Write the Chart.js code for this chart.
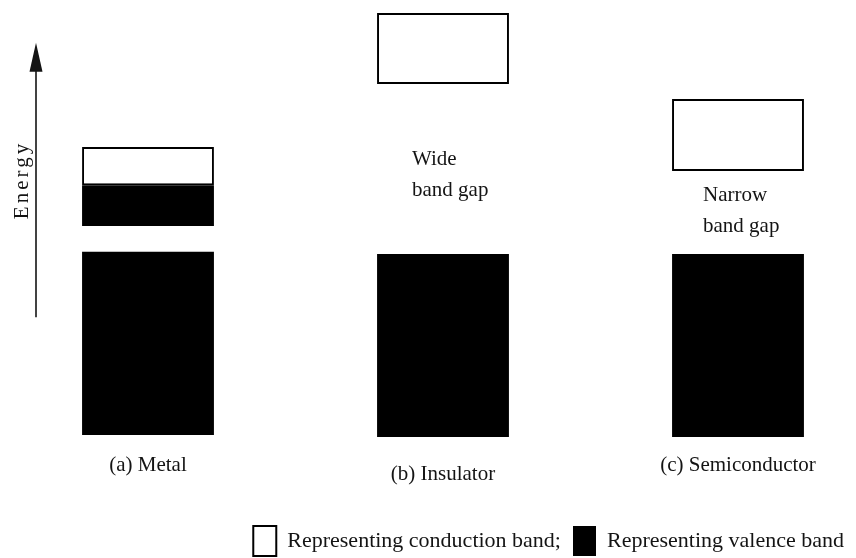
<!DOCTYPE html>
<html>
<head>
<meta charset="utf-8">
<script src="https://cdn.jsdelivr.net/npm/chart.js@4.4.1/dist/chart.umd.min.js"></script>
<style>
html, body { margin: 0; padding: 0; background: #fff; }
canvas { display: block; }
</style>
</head>
<body>
<canvas id="c" width="856" height="558"></canvas>
<script>
// ---- data (energy in arbitrary units) ----
const categories = ['(a) Metal', '(b) Insulator', '(c) Semiconductor'];
const conductionBand = [[6.05, 6.97], [8.48, 10.19], [6.39, 8.12]];
const valenceBand = [[0.05, 4.45], [0, 4.40], [0, 4.40]];
const partialValenceBand = [[5.07, 6.05], null, null];
const gapLabels = [null, ['Wide', 'band gap'], ['Narrow', 'band gap']];
const energyArrowRange = [2.88, 9.47];
const axisTitle = 'Energy';
const legendLabels = ['Representing conduction band;', 'Representing valence band'];

const FONT = "'Liberation Serif', 'Times New Roman', serif";
const INK = '#141414';

const bandAnnotations = {
  id: 'bandAnnotations',
  afterDatasetsDraw(chart, args, opts) {
    const { ctx, scales: { x, y } } = chart;
    ctx.save();
    // Energy arrow
    const ax = opts.arrowX;
    const y0 = y.getPixelForValue(energyArrowRange[0]);
    const y1 = y.getPixelForValue(energyArrowRange[1]);
    ctx.strokeStyle = INK;
    ctx.fillStyle = INK;
    ctx.lineWidth = 1.6;
    ctx.beginPath();
    ctx.moveTo(ax, y0);
    ctx.lineTo(ax, y1 + opts.headLen - 2);
    ctx.stroke();
    ctx.beginPath();
    ctx.moveTo(ax, y1);
    ctx.lineTo(ax - opts.headHalf, y1 + opts.headLen);
    ctx.lineTo(ax + opts.headHalf, y1 + opts.headLen);
    ctx.closePath();
    ctx.fill();
    // axis title
    ctx.save();
    ctx.translate(opts.titleX, (y0 + y1) / 2);
    ctx.rotate(-Math.PI / 2);
    ctx.font = '21px ' + FONT;
    ctx.textAlign = 'center';
    ctx.textBaseline = 'middle';
    try { ctx.letterSpacing = '3px'; } catch (e) {}
    ctx.fillText(axisTitle, 0, 0);
    ctx.restore();
    // band-gap labels
    ctx.font = '21px ' + FONT;
    ctx.textAlign = 'left';
    ctx.textBaseline = 'alphabetic';
    gapLabels.forEach((lines, i) => {
      if (!lines) return;
      const px = x.getPixelForValue(i) + opts.gapDx[i];
      const py = y.getPixelForValue(opts.gapY[i]);
      lines.forEach((t, k) => ctx.fillText(t, px, py + k * opts.gapLine));
    });
    ctx.restore();
  }
};

new Chart(document.getElementById('c'), {
  type: 'bar',
  data: {
    labels: categories,
    datasets: [
      { label: legendLabels[0], data: conductionBand, backgroundColor: '#ffffff', borderColor: '#000000', borderWidth: 2, borderSkipped: false, clip: false },
      { label: legendLabels[1], data: valenceBand, backgroundColor: '#000000', borderColor: '#000000', borderWidth: 0, clip: false },
      { label: 'Partially filled band (metal)', data: partialValenceBand, backgroundColor: '#000000', borderColor: '#000000', borderWidth: 0, clip: false }
    ]
  },
  options: {
    responsive: false,
    animation: false,
    events: [],
    layout: { padding: 0 },
    datasets: { bar: { grouped: false, categoryPercentage: 1, barPercentage: 0.447 } },
    scales: {
      x: {
        offset: false,
        grid: { display: false, drawTicks: false },
        border: { display: false },
        ticks: {
          color: INK,
          padding: 16,
          maxRotation: 0,
          autoSkip: false,
          font: (c) => ({ family: FONT, size: 21, lineHeight: c.index === 1 ? 2.06 : 1.2 })
        },
        afterFit: (s) => { s.height = 77; }
      },
      y: {
        min: 0,
        max: 10.5,
        grid: { display: false, drawTicks: false },
        border: { display: false },
        ticks: { display: false },
        afterFit: (s) => { s.width = 148; }
      },
      yRight: {
        position: 'right',
        grid: { display: false, drawTicks: false },
        border: { display: false },
        ticks: { display: false },
        afterFit: (s) => { s.width = 118; }
      }
    },
    plugins: {
      tooltip: { enabled: false },
      legend: {
        position: 'bottom',
        align: 'end',
        maxHeight: 44,
        labels: {
          filter: (item) => item.datasetIndex !== 2,
          boxWidth: 23,
          boxHeight: 30,
          padding: 12,
          color: INK,
          font: { family: FONT, size: 22 }
        }
      },
      bandAnnotations: {
        arrowX: 36,
        headLen: 29,
        headHalf: 6.5,
        titleX: 22,
        gapDx: [0, -31, -35],
        gapY: [0, 6.53, 5.67],
        gapLine: 31
      }
    }
  },
  plugins: [bandAnnotations]
});
</script>
</body>
</html>
